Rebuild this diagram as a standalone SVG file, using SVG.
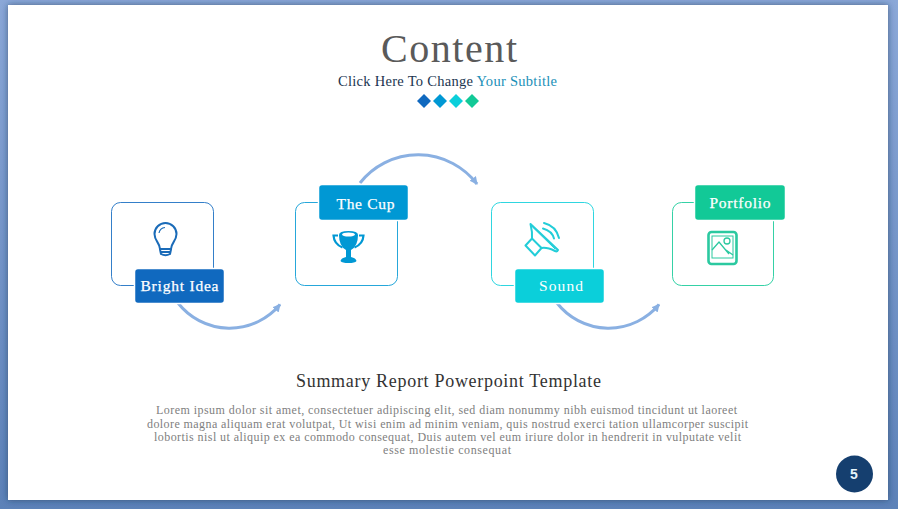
<svg xmlns="http://www.w3.org/2000/svg" width="898" height="509" viewBox="0 0 898 509">
<style>
text{font-family:"Liberation Serif","Times New Roman",serif}
.box{fill:#fff;stroke-width:1;stroke-opacity:.85}
.tag{stroke:#fff;stroke-width:1.5}
.lbl{fill:#fff;font-size:15.500px;text-anchor:middle;stroke:#fff;stroke-width:.25}
.arc{fill:none;stroke:#8ab0e2;stroke-width:3;marker-end:url(#ah)}
.body{fill:#808080;font-size:12px}
</style>
<defs>
<linearGradient id="bg" x1="0" y1="0" x2="0" y2="1"><stop offset="0" stop-color="#8ba8d8"/><stop offset="1" stop-color="#5c82b8"/></linearGradient>
<filter id="sh" x="-3%" y="-3%" width="106%" height="106%"><feDropShadow dx="0" dy="0" stdDeviation="3" flood-color="#1d3558" flood-opacity=".65"/></filter>
<marker id="ah" markerUnits="userSpaceOnUse" markerWidth="10" markerHeight="10" refX="7" refY="4" orient="auto"><path d="M0 0L8 4L0 8z" fill="#8ab0e2"/></marker>
</defs>
<rect width="898" height="509" fill="url(#bg)"/>
<rect x="8" y="5" width="880" height="495" fill="#fff" filter="url(#sh)"/>
<g id="header">
<text x="381" y="62" font-size="40" fill="#5a5a5a" textLength="136" lengthAdjust="spacing">Content</text>
<text x="338" y="86" font-size="14.500" fill="#1b3550" textLength="219" lengthAdjust="spacing">Click Here To Change <tspan fill="#1a8fb8">Your Subtitle</tspan></text>
<path d="M424 94l7 7-7 7-7-7z" fill="#1069bf"/><path d="M440 94l7 7-7 7-7-7z" fill="#0098d4"/><path d="M456 94l7 7-7 7-7-7z" fill="#0bcfda"/><path d="M472 94l7 7-7 7-7-7z" fill="#12c997"/>
</g>
<g id="connectors">
<path class="arc" d="M178 303A65.5 65.5 0 0 0 280 304.500"/>
<path class="arc" d="M360 183A74 74 0 0 1 477 184"/>
<path class="arc" d="M557 303A65.500 65.500 0 0 0 659 304.500"/>
</g>
<g id="node-bright-idea">
<rect class="box" x="111.500" y="202.500" width="102" height="83" rx="9" stroke="#1069bf"/>
<g fill="none" stroke="#1a6bb8" stroke-width="2">
<path d="M160 249C160 243 154.500 241 154.500 234A11 11 0 0 1 176.500 234C176.500 241 171 243 171 249z"/>
<path d="M160 249.500L161 254Q165.500 256.500 170 254L171 249.500M160.500 252H170.500"/>
<path d="M159 233A7 7 0 0 1 165 227.500" stroke-width="1.200"/>
</g>
<rect class="tag" x="134.500" y="268.500" width="90" height="35" rx="3.500" fill="#1069bf"/>
<text class="lbl" x="179.500" y="291" textLength="78">Bright Idea</text>
</g>
<g id="node-the-cup">
<rect class="box" x="295.500" y="202.500" width="102" height="83" rx="9" stroke="#0098d4"/>
<g fill="#0098d4">
<path d="M339 235Q339 231 348.500 231Q358 231 358 235Q358 246 351 250V257Q356 258 356.500 261Q355 263 348.500 263Q342 263 340.500 261Q341 258 346 257V250Q339 246 339 235z"/>
<path d="M338 235.500H333.500Q334 244 342.500 247.500" fill="none" stroke="#0098d4" stroke-width="2.200"/>
<path d="M359 235.500H363.500Q363 244 354.500 247.500" fill="none" stroke="#0098d4" stroke-width="2.200"/>
<ellipse cx="348.500" cy="234.500" rx="6.500" ry="2" fill="#fff"/>
</g>
<rect class="tag" x="318.500" y="184.500" width="90" height="36" rx="3.500" fill="#0098d4"/>
<text class="lbl" x="365.500" y="209" textLength="58">The Cup</text>
</g>
<g id="node-sound">
<rect class="box" x="491.500" y="202.500" width="102" height="83" rx="9" stroke="#0bcfda"/>
<g fill="none" stroke="#22cdd8" stroke-width="2" stroke-linejoin="round" stroke-linecap="round">
<path d="M530.500 224L558 250Q557 252 555 251Q547 247 541.500 248L532 238.500Q532.500 232 530.500 224z"/>
<path d="M532 238.500L525.500 245.500L535 255.500L541.500 248"/>
<path d="M532.500 227L555 249" stroke-width="1"/>
<path d="M543 228.500Q552 231 554 238.500M544 223Q556 226 559 238"/>
</g>
<rect class="tag" x="514.500" y="268.500" width="90" height="35" rx="3.500" fill="#0bcfda"/>
<text class="lbl" x="561" y="291" textLength="44" style="stroke-width:0">Sound</text>
</g>
<g id="node-portfolio">
<rect class="box" x="672.500" y="202.500" width="101" height="83" rx="9" stroke="#12c997"/>
<g fill="none" stroke="#2bc9a0">
<rect x="708.500" y="232" width="28" height="32" rx="3" stroke-width="2.600"/>
<rect x="712" y="236" width="21" height="22" stroke-width="1"/>
<path d="M712 250L719 242L729 254M726 250L733 255" stroke-width="1.300"/>
<circle cx="727" cy="241" r="3" stroke-width="1.300"/>
</g>
<rect class="tag" x="694.500" y="184.500" width="91" height="36" rx="3.500" fill="#12c997"/>
<text class="lbl" x="740" y="208" textLength="61">Portfolio</text>
</g>
<g id="footer">
<text x="296" y="387" font-size="18" fill="#333" textLength="305">Summary Report Powerpoint Template</text>
<text class="body" x="156" y="414" textLength="581">Lorem ipsum dolor sit amet, consectetuer adipiscing elit, sed diam nonummy nibh euismod tincidunt ut laoreet</text>
<text class="body" x="147" y="428" textLength="601">dolore magna aliquam erat volutpat, Ut wisi enim ad minim veniam, quis nostrud exerci tation ullamcorper suscipit</text>
<text class="body" x="154" y="441" textLength="587">lobortis nisl ut aliquip ex ea commodo consequat, Duis autem vel eum iriure dolor in hendrerit in vulputate velit</text>
<text class="body" x="383" y="454" textLength="128">esse molestie consequat</text>
</g>
<g id="page-number">
<circle cx="854.500" cy="474" r="18.500" fill="#153f6f"/>
<text x="854" y="479" text-anchor="middle" font-size="14" font-weight="bold" fill="#e6f4fa" style="font-family:'Liberation Sans',sans-serif">5</text>
</g>
</svg>
